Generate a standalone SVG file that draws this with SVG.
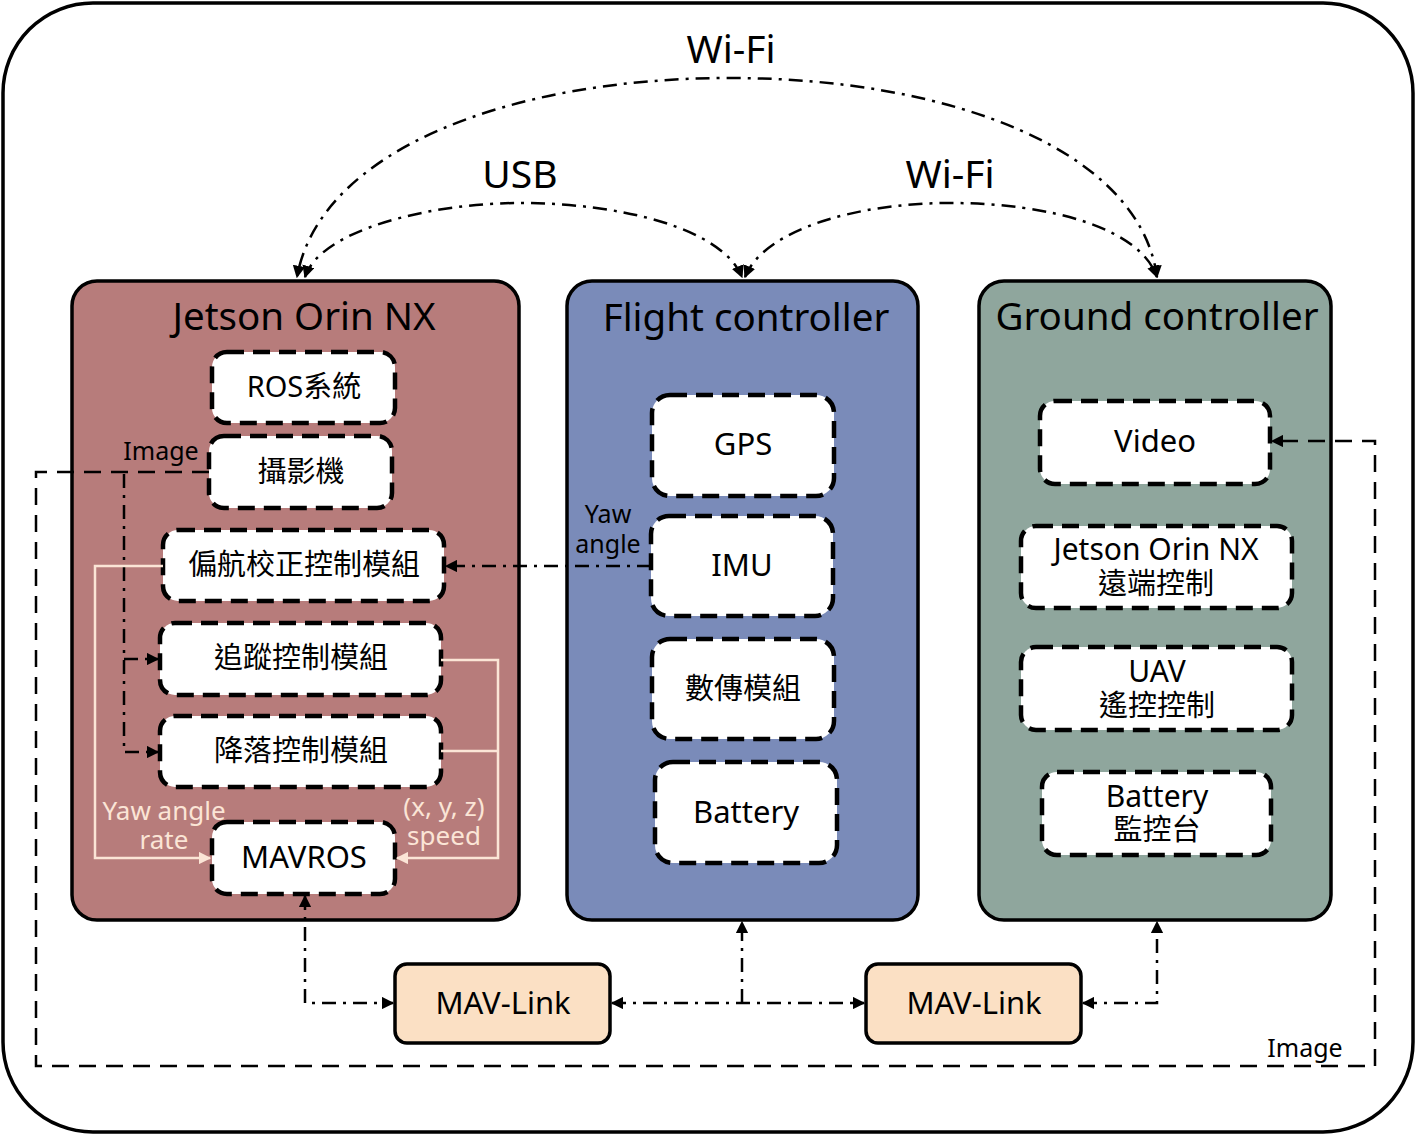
<svg xmlns="http://www.w3.org/2000/svg" width="1416" height="1135" viewBox="0 0 1416 1135">
<defs>
<style>
text{font-family:"Noto Sans","Noto Sans CJK TC",sans-serif;fill:#000;text-anchor:middle}
.title{font-size:38.5px}
.nt{font-size:29px}
.nl{font-size:31px}
.nm{font-size:30px}
.lb{font-size:25px}
.cl{font-size:26px}
.big{font-size:39px}
.cream{fill:#fbe5d6}
.group{stroke:#000;stroke-width:3.5}
.node{fill:#fff;stroke:#000;stroke-width:4.5;stroke-dasharray:17 9}
.ml{fill:#fbe0c4;stroke:#000;stroke-width:3.5}
.dd{fill:none;stroke:#000;stroke-width:2.5;stroke-dasharray:14 7 3 7}
.da{fill:none;stroke:#000;stroke-width:2.5;stroke-dasharray:17 10}
.cr{fill:none;stroke:#fbe5d6;stroke-width:2.5}
</style>
<marker id="ah" viewBox="0 0 10 10" refX="9" refY="5" markerWidth="5" markerHeight="5" orient="auto-start-reverse" markerUnits="strokeWidth">
<path d="M0,0 L10,5 L0,10 z" fill="#000"/>
</marker>
<marker id="ahc" viewBox="0 0 10 10" refX="9" refY="5" markerWidth="5" markerHeight="5" orient="auto-start-reverse" markerUnits="strokeWidth">
<path d="M0,0 L10,5 L0,10 z" fill="#fbe5d6"/>
</marker>
</defs>
<rect x="3" y="3" width="1410" height="1129" rx="90" fill="#fff" stroke="#000" stroke-width="3.5"/>

<g id="jetson">
<rect class="group" x="72" y="281" width="447" height="639" rx="25" fill="#b77c7b"/>
<text class="title" x="304" y="330">Jetson Orin NX</text>
</g>
<g id="flight">
<rect class="group" x="567" y="281" width="351" height="639" rx="25" fill="#7a8bb9"/>
<text class="title" x="746" y="331">Flight controller</text>
</g>
<g id="ground">
<rect class="group" x="979" y="281" width="352" height="639" rx="25" fill="#8fa69d"/>
<text class="title" x="1157" y="330">Ground controller</text>
</g>

<g id="ros"><rect class="node" x="212" y="352" width="183" height="71" rx="15"/><text class="nt" x="304" y="397">ROS系統</text></g>
<g id="camera"><rect class="node" x="209" y="436" width="183" height="72" rx="15"/><text class="nt" x="301" y="482">攝影機</text></g>
<g id="yawmod"><rect class="node" x="163" y="530" width="281" height="71" rx="15"/><text class="nt" x="304" y="575">偏航校正控制模組</text></g>
<g id="track"><rect class="node" x="160" y="623" width="281" height="72" rx="15"/><text class="nt" x="301" y="668">追蹤控制模組</text></g>
<g id="land"><rect class="node" x="160" y="716" width="281" height="71" rx="15"/><text class="nt" x="301" y="761">降落控制模組</text></g>
<g id="mavros"><rect class="node" x="212" y="822" width="183" height="72" rx="15"/><text class="nl" x="304" y="868">MAVROS</text></g>

<g id="gps"><rect class="node" x="652" y="395" width="182" height="101" rx="18"/><text class="nl" x="743" y="455">GPS</text></g>
<g id="imu"><rect class="node" x="651" y="516" width="182" height="100" rx="18"/><text class="nl" x="742" y="576">IMU</text></g>
<g id="datalink"><rect class="node" x="652" y="639" width="182" height="100" rx="18"/><text class="nt" x="743" y="699">數傳模組</text></g>
<g id="battery"><rect class="node" x="655" y="762" width="182" height="101" rx="18"/><text class="nl" x="746" y="823">Battery</text></g>

<g id="video"><rect class="node" x="1040" y="401" width="230" height="83" rx="15"/><text class="nl" x="1155" y="452">Video</text></g>
<g id="remote"><rect class="node" x="1021" y="526" width="271" height="82" rx="15"/><text class="nm" x="1156" y="560">Jetson Orin NX</text><text class="nt" x="1156" y="594">遠端控制</text></g>
<g id="uav"><rect class="node" x="1021" y="647" width="271" height="83" rx="15"/><text class="nm" x="1157" y="682">UAV</text><text class="nt" x="1157" y="716">遙控控制</text></g>
<g id="batmon"><rect class="node" x="1042" y="772" width="229" height="83" rx="15"/><text class="nm" x="1157" y="807">Battery</text><text class="nt" x="1157" y="840">監控台</text></g>

<g id="mavlink1"><rect class="ml" x="395" y="964" width="215" height="79" rx="12"/><text class="nl" x="503" y="1014">MAV-Link</text></g>
<g id="mavlink2"><rect class="ml" x="866" y="964" width="215" height="79" rx="12"/><text class="nl" x="974" y="1014">MAV-Link</text></g>

<g id="connectors">
<path class="dd" d="M1157 277 C1140 150 950 78 730 78 C510 78 320 150 297 277" marker-start="url(#ah)" marker-end="url(#ah)"/>
<path class="dd" d="M305 277 C320 230 430 203 520 203 C620 203 722 228 742 277" marker-start="url(#ah)" marker-end="url(#ah)"/>
<path class="dd" d="M745 277 C765 228 860 203 950 203 C1050 203 1140 228 1157 277" marker-start="url(#ah)" marker-end="url(#ah)"/>
<text class="big" x="731" y="63">Wi-Fi</text>
<text class="big" x="520" y="188">USB</text>
<text class="big" x="950" y="188">Wi-Fi</text>

<path class="dd" d="M651 566 H446" marker-end="url(#ah)"/>
<text class="lb" x="608" y="523">Yaw</text>
<text class="lb" x="608" y="553">angle</text>

<path class="da" d="M209 472 H36 V1066 H1375 V441 H1272" marker-end="url(#ah)"/>
<text class="lb" x="161" y="460">Image</text>
<text class="lb" x="1305" y="1057">Image</text>

<path class="dd" d="M124 474 V752 H158" marker-end="url(#ah)"/>
<path class="dd" d="M124 659 H158" marker-end="url(#ah)"/>

<path class="cr" d="M163 566 H95 V858 H210" marker-end="url(#ahc)"/>
<path class="cr" d="M441 660 H498 V858 H397" marker-end="url(#ahc)"/>
<path class="cr" d="M441 751 H498"/>
<text class="cl cream" x="164" y="820">Yaw angle</text>
<text class="cl cream" x="164" y="849">rate</text>
<text class="cl cream" x="444" y="816">(x, y, z)</text>
<text class="cl cream" x="444" y="845">speed</text>

<path class="dd" d="M305 896 V1003 H393" marker-start="url(#ah)" marker-end="url(#ah)"/>
<path class="dd" d="M612 1003 H864" marker-start="url(#ah)" marker-end="url(#ah)"/>
<path class="dd" d="M742 1003 V922" marker-end="url(#ah)"/>
<path class="dd" d="M1083 1003 H1157 V922" marker-start="url(#ah)" marker-end="url(#ah)"/>
</g>
</svg>
